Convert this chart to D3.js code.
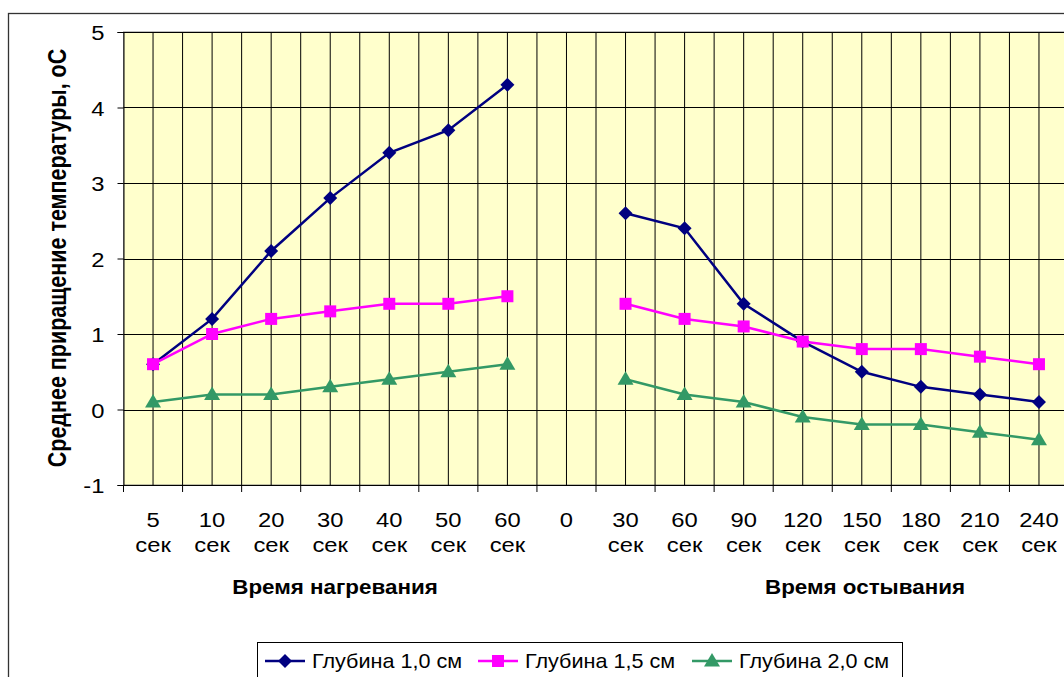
<!doctype html>
<html>
<head>
<meta charset="utf-8">
<script src="https://d3js.org/d3.v7.min.js"></script>
<style>
  body { margin: 0; background: #fff; }
  text { font-family: "Liberation Sans", Arial, sans-serif; }
</style>
</head>
<body>
<svg id="chart" width="1064" height="677"></svg>
<script>
// data
const categories = ["5 сек", "10 сек", "20 сек", "30 сек", "40 сек", "50 сек", "60 сек", "0",
                    "30 сек", "60 сек", "90 сек", "120 сек", "150 сек", "180 сек", "210 сек", "240 сек"]
const depth10 = [0.6, 1.2, 2.1, 2.8, 3.4, 3.7, 4.3, null, 2.6, 2.4, 1.4, 0.9, 0.5, 0.3, 0.2, 0.1]
const depth15 = [0.6, 1.0, 1.2, 1.3, 1.4, 1.4, 1.5, null, 1.4, 1.2, 1.1, 0.9, 0.8, 0.8, 0.7, 0.6]
const depth20 = [0.1, 0.2, 0.2, 0.3, 0.4, 0.5, 0.6, null, 0.4, 0.2, 0.1, -0.1, -0.2, -0.2, -0.3, -0.4]
const yTicks = [-1, 0, 1, 2, 3, 4, 5]
const seriesNames = ["Глубина 1,0 см", "Глубина 1,5 см", "Глубина 2,0 см"]

const series = [
    { name: seriesNames[0], values: depth10, color: "#000080", marker: "diamond" },
    { name: seriesNames[1], values: depth15, color: "#FF00FF", marker: "square" },
    { name: seriesNames[2], values: depth20, color: "#339966", marker: "triangle" }
]

const FONT = 20.5
const SX = 1.16   // the original text is a little wider than it is tall

const svg = d3.select("#chart")

const plot = { left: 123.5, top: 32, width: 945, height: 453 }

const x = d3.scaleBand()
    .domain(d3.range(categories.length))
    .range([plot.left, plot.left + plot.width])
    .padding(0)

const y = d3.scaleLinear()
    .domain([-1, 5])
    .range([plot.top + plot.height, plot.top])

const cx = i => x(i) + x.bandwidth() / 2

// stretched text helper
function stext(g, tx, ty, str, anchor, bold, size, sx) {
    return g.append("text")
        .attr("transform", "translate(" + tx + "," + ty + ") scale(" + (sx || SX) + ",1)")
        .attr("text-anchor", anchor || "start")
        .attr("font-size", size || FONT)
        .attr("font-weight", bold ? "bold" : "normal")
        .attr("fill", "#000")
        .text(str)
}

// outer chart border
svg.append("rect")
    .attr("x", 8.5).attr("y", 13.5)
    .attr("width", 1100).attr("height", 700)
    .attr("fill", "#fff")
    .attr("stroke", "#333").attr("stroke-width", 1.3)

// plot background
svg.append("rect")
    .attr("x", plot.left).attr("y", plot.top)
    .attr("width", plot.width).attr("height", plot.height)
    .attr("fill", "#FFFFCC")
    .attr("stroke", "#808080")

// vertical grid: category boundaries and centers
const vLines = []
d3.range(categories.length).forEach(i => {
    vLines.push(x(i))
    vLines.push(cx(i))
})
svg.append("g").selectAll("line")
    .data(vLines.slice(1))
    .join("line")
    .attr("x1", d => d).attr("x2", d => d)
    .attr("y1", plot.top).attr("y2", plot.top + plot.height)
    .attr("stroke", "#000").attr("stroke-width", 1)

// horizontal grid
svg.append("g").selectAll("line")
    .data(yTicks.slice(1))
    .join("line")
    .attr("x1", plot.left).attr("x2", plot.left + plot.width)
    .attr("y1", d => Math.round(y(d)) + 0.5).attr("y2", d => Math.round(y(d)) + 0.5)
    .attr("stroke", "#000").attr("stroke-width", 1)

// y axis
const yAxis = d3.axisLeft(y).tickValues(yTicks).tickSize(6).tickFormat(d => String(d))
const gy = svg.append("g")
    .attr("transform", "translate(" + plot.left + ",0)")
    .call(yAxis)
gy.select(".domain").attr("stroke", "#000")
gy.selectAll("line").attr("stroke", "#000")
gy.selectAll("text").remove()
gy.selectAll(".tick").each(function (d) {
    stext(d3.select(this), -19, 7.5, String(d), "end")
})

// x axis (ticks at category boundaries)
const xBase = plot.top + plot.height
svg.append("line")
    .attr("x1", plot.left).attr("x2", plot.left + plot.width)
    .attr("y1", xBase + 0.5).attr("y2", xBase + 0.5)
    .attr("stroke", "#000")
svg.append("g").selectAll("line")
    .data(d3.range(categories.length))
    .join("line")
    .attr("x1", d => x(d)).attr("x2", d => x(d))
    .attr("y1", xBase).attr("y2", xBase + 7)
    .attr("stroke", "#000")

const xLab = svg.append("g")
categories.forEach((c, i) => {
    const t = stext(xLab, cx(i), 527, "", "middle")
    c.split(" ").forEach((p, k) => {
        t.append("tspan")
            .attr("x", 0)
            .attr("dy", k === 0 ? 0 : 25)
            .text(p)
    })
})

// axis titles
stext(svg, 335, 594, "Время нагревания", "middle", true, 20, 1.12)
stext(svg, 865, 594, "Время остывания", "middle", true, 20, 1.12)
svg.append("text")
    .attr("transform", "translate(66,258) scale(" + SX + ",1) rotate(-90)")
    .attr("text-anchor", "middle")
    .attr("font-size", 21.5).attr("font-weight", "bold")
    .text("Среднее приращение температуры, оС")

// markers
function drawMarker(g, type, color, mx, my) {
    if (type === "diamond") {
        g.append("path")
            .attr("d", `M${mx},${my - 7}L${mx + 7},${my}L${mx},${my + 7}L${mx - 7},${my}Z`)
            .attr("fill", color)
    } else if (type === "square") {
        g.append("rect")
            .attr("x", mx - 6).attr("y", my - 6)
            .attr("width", 12).attr("height", 12)
            .attr("fill", color)
    } else {
        g.append("path")
            .attr("d", `M${mx},${my - 8}L${mx + 8},${my + 5.5}L${mx - 8},${my + 5.5}Z`)
            .attr("fill", color)
    }
}

series.forEach(s => {
    const line = d3.line()
        .defined(d => d !== null)
        .x((d, i) => cx(i))
        .y(d => y(d))
    svg.append("path")
        .datum(s.values)
        .attr("d", line)
        .attr("fill", "none")
        .attr("stroke", s.color)
        .attr("stroke-width", 2.5)
    const g = svg.append("g")
    s.values.forEach((v, i) => {
        if (v !== null) drawMarker(g, s.marker, s.color, cx(i), y(v))
    })
})

// legend
const legend = svg.append("g")
legend.append("rect")
    .attr("x", 257.5).attr("y", 642.5)
    .attr("width", 645).attr("height", 50)
    .attr("fill", "#fff").attr("stroke", "#000")
const legendX = [265, 478, 692]
series.forEach((s, i) => {
    const lx = legendX[i]
    legend.append("line")
        .attr("x1", lx).attr("x2", lx + 40)
        .attr("y1", 661).attr("y2", 661)
        .attr("stroke", s.color).attr("stroke-width", 2.5)
    drawMarker(legend, s.marker, s.color, lx + 20, 661)
    stext(legend, lx + 47, 668, s.name, "start", false, 20, 1.08)
})
</script>
</body>
</html>
